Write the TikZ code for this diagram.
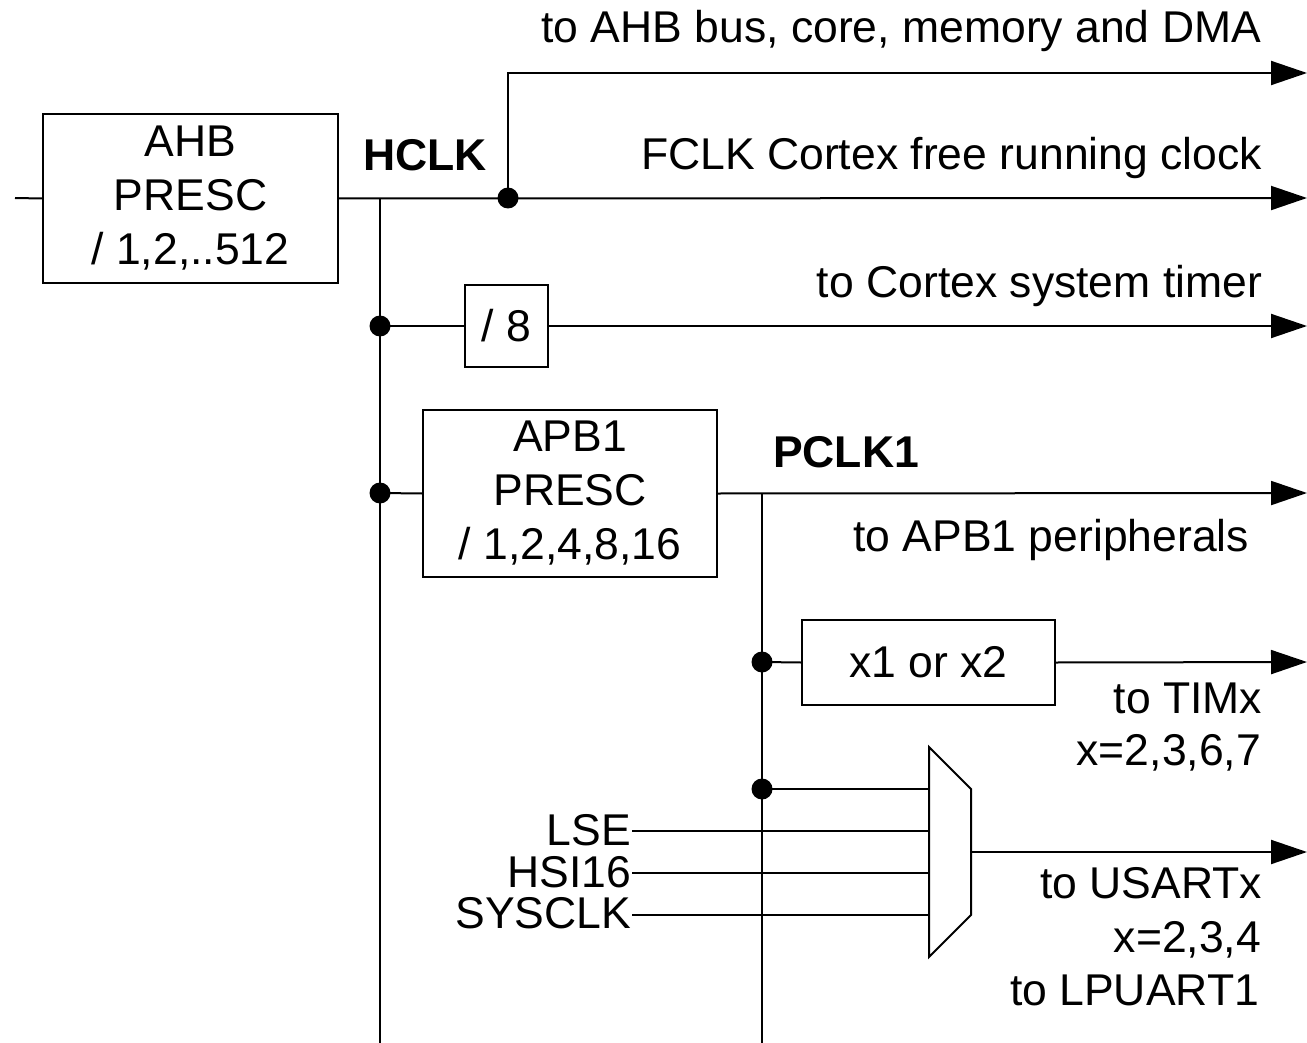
\documentclass[tikz,border=0pt]{standalone}
\usepackage{fontspec}
\setmainfont{Liberation Sans}
\usetikzlibrary{arrows.meta}
\begin{document}
\begin{tikzpicture}[x=1pt,y=-1pt,
  line width=2pt,
  txt/.style={font=\fontsize{44.5}{54}\selectfont, inner sep=0pt},
  btxt/.style={font=\fontsize{44.5}{54}\selectfont\bfseries, inner sep=0pt},
  blk/.style={draw, line width=2pt, inner sep=0pt, font=\fontsize{44.5}{54}\selectfont, align=center},
  dot/.style={circle, fill, inner sep=0pt, minimum size=21pt},
  arr/.style={-{Triangle[length=36pt,width=24pt]}},
]
\useasboundingbox (0,0) rectangle (1307,1043);

% blocks
\node[blk, minimum width=295pt, minimum height=169pt] (ahb) at (190.5,198.5) {AHB\\PRESC\\/ 1,2,..512};
\node[blk, minimum width=83pt, minimum height=82pt] (div8) at (506.5,326) {/ 8};
\node[blk, minimum width=294pt, minimum height=167pt] (apb) at (570,493.5) {APB1\\PRESC\\/ 1,2,4,8,16};
\node[blk, minimum width=253pt, minimum height=85pt] (tim) at (928.5,662.5) {x1 or x2};

% mux
\draw (929,747) -- (971,789) -- (971,915) -- (929,957) -- cycle;
\coordinate (m0) at (929,789);
\coordinate (m1) at (929,831);
\coordinate (m2) at (929,873);
\coordinate (m3) at (929,915);
\coordinate (mout) at (971,852);

% coordinates
\coordinate (in) at (15,198);
\coordinate (hb) at (380,198);
\coordinate (hbot) at (380,1043);
\coordinate (pb) at (762,493);
\coordinate (pbot) at (762,1043);
\coordinate (top) at (508,73);
\coordinate (e0) at (1307,73);
\coordinate (e1) at (1307,198);
\coordinate (e2) at (1307,326);
\coordinate (e3) at (1307,493);
\coordinate (e4) at (1307,662);
\coordinate (e5) at (1307,852);

% dots
\node[dot] (d0) at (508,198) {};
\node[dot] (d1) at (380,326) {};
\node[dot] (d2) at (380,493) {};
\node[dot] (d3) at (762,662) {};
\node[dot] (d4) at (762,789) {};

% wires
\draw (in) -- (ahb.west);
\draw[arr] (ahb.east) -- (e1);
\draw (hb) -- (hbot);
\draw[arr] (d0.center) -- (top) -- (e0);
\draw (d1.center) -- (div8.west);
\draw[arr] (div8.east) -- (e2);
\draw (d2.center) -- (apb.west);
\draw[arr] (apb.east) -- (e3);
\draw (pb) -- (pbot);
\draw (d3.center) -- (tim.west);
\draw[arr] (tim.east) -- (e4);
\draw (d4.center) -- (m0);
\draw[arr] (mout) -- (e5);

% mux inputs
\node[txt, anchor=base east] (lse) at (632,845) {LSE};
\node[txt, anchor=base east] (hsi) at (632,887) {HSI16};
\node[txt, anchor=base east] (sys) at (632,928) {SYSCLK};
\draw (lse.east |- m1) -- (m1);
\draw (hsi.east |- m2) -- (m2);
\draw (sys.east |- m3) -- (m3);

% labels
\node[btxt, anchor=base west] (hclk) at (362,171) {HCLK};
\node[btxt, anchor=base west] (pclk) at (772,467) {PCLK1};
\node[txt, anchor=base east] (l0) at (1262,43) {to AHB bus, core, memory and DMA};
\node[txt, anchor=base east] (l1) at (1263,170) {FCLK Cortex free running clock};
\node[txt, anchor=base east] (l2) at (1263,298) {to Cortex system timer};
\node[txt, anchor=base east] (l3) at (1250,551) {to APB1 peripherals};
\node[txt, anchor=base east] (l4) at (1263,713) {to TIMx};
\node[txt, anchor=base east] (l5) at (1262,765) {x=2,3,6,7};
\node[txt, anchor=base east] (l6) at (1263,898) {to USARTx};
\node[txt, anchor=base east] (l7) at (1262,952) {x=2,3,4};
\node[txt, anchor=base east] (l8) at (1260,1005) {to LPUART1};
\end{tikzpicture}
\end{document}
